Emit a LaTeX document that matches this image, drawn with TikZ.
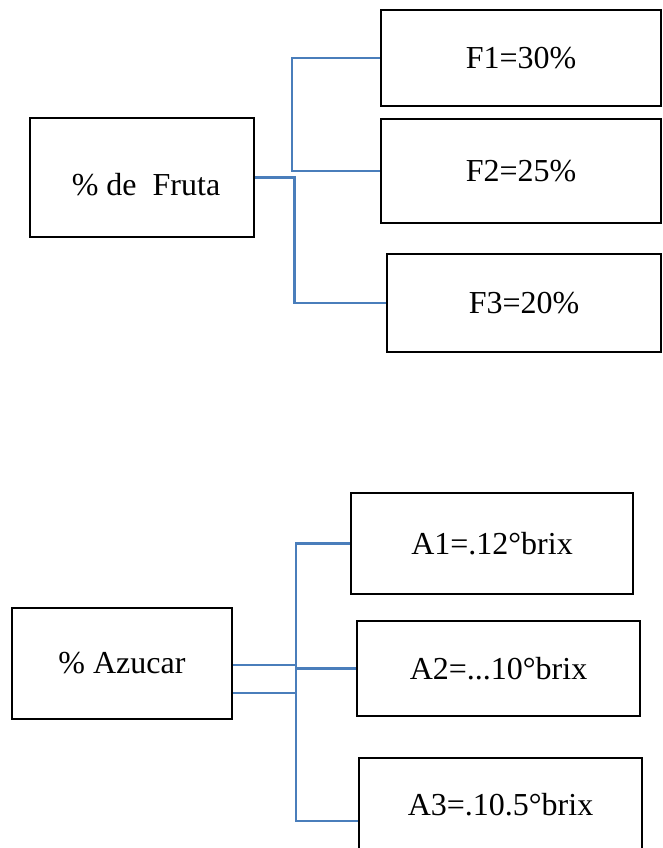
\documentclass[tikz,border=0pt]{standalone}
\usepackage{fontspec}
\setmainfont{Liberation Serif}
\usetikzlibrary{calc}
\definecolor{connblue}{RGB}{74,126,187}
\begin{document}
\begin{tikzpicture}[x=1pt,y=-1pt,
  box/.style={draw=black,line width=2.8pt,rectangle,inner sep=0pt,
    font=\fontsize{32}{38}\selectfont},
  conn/.style={draw=connblue,line width=2.5pt}]
\useasboundingbox (0,0) rectangle (662,848);
% top group
\node[box,minimum width=224pt,minimum height=119pt,
  label={[font=\fontsize{32}{38}\selectfont,shift={(4,7)}]center:\% de\ \ Fruta}] (fruta) at (142,177.5) {};
\node[box,minimum width=280pt,minimum height=96pt] (F1) at (521,58) {F1=30\%};
\node[box,minimum width=280pt,minimum height=104pt] (F2) at (521,171) {F2=25\%};
\node[box,minimum width=274pt,minimum height=98pt] (F3) at (524,303) {F3=20\%};
\coordinate (jf) at (292,174);
\coordinate (jg) at (294.5,177.5);
\draw[conn] (F1.west) -| (jf |- F2.west) -- (F2.west);
\draw[conn] (fruta.east) -- (jg |- fruta.east) |- (F3.west);
% bottom group
\node[box,minimum width=220pt,minimum height=111pt] (azucar) at (122,663.5) {\% Azucar};
\node[box,minimum width=282pt,minimum height=101pt] (A1) at (492,543.5) {A1=.12°brix};
\node[box,minimum width=283pt,minimum height=95pt] (A2) at (498.5,668.5) {A2=...10°brix};
\node[box,minimum width=283pt,minimum height=94pt] (A3) at (500.5,805) {A3=.10.5°brix};
\coordinate (ja) at (296,0);
\coordinate (a3in) at ($(A3.west)+(0,16)$);
\coordinate (az1) at ($(azucar.east)+(0,1.5)$);
\coordinate (az2) at ($(azucar.east)+(0,29.5)$);
\draw[conn] (A1.west) -| (ja |- a3in) -- (a3in);
\draw[conn] (A2.west) -- (ja |- A2.west);
\draw[conn] (az1) -- (ja |- az1) -- (ja |- az2) -- (az2);
\end{tikzpicture}
\end{document}
